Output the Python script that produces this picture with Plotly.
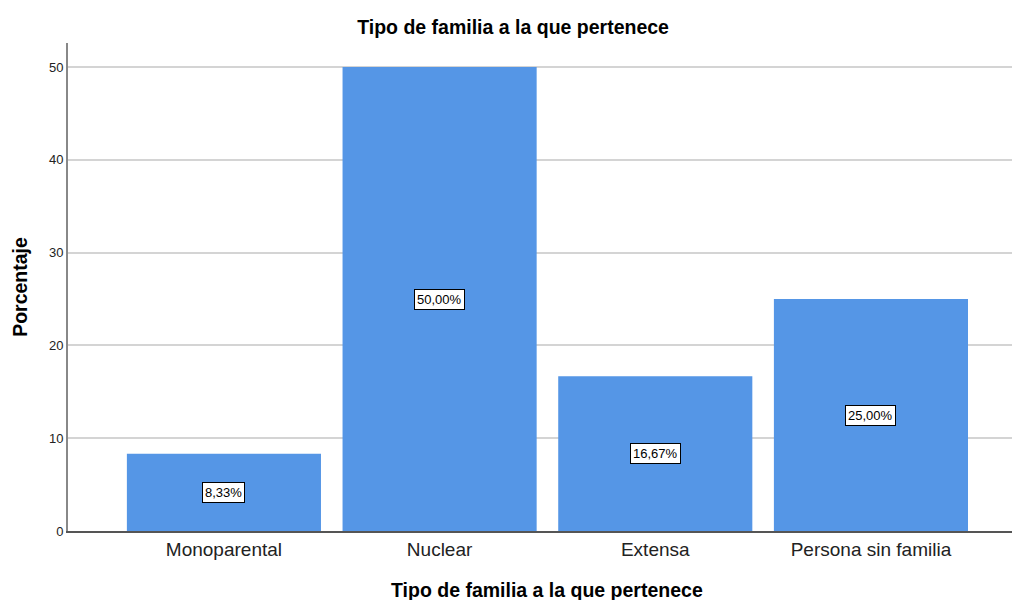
import plotly.graph_objects as go

categories = ["Monoparental", "Nuclear", "Extensa", "Persona sin familia"]
values = [8.33, 50.00, 16.67, 25.00]
labels = ["8,33%", "50,00%", "16,67%", "25,00%"]
yticks = [0, 10, 20, 30, 40, 50]

FONT = "Liberation Sans, Arial, sans-serif"
TITLE = "Tipo de familia a la que pertenece"

fig = go.Figure()
fig.add_trace(go.Bar(x=list(range(len(categories))), y=values, width=0.9,
                     marker=dict(color="#5596e6", line=dict(width=0)),
                     hoverinfo="skip"))

for i, (v, t) in enumerate(zip(values, labels)):
    fig.add_annotation(x=i, y=v / 2, text=t, showarrow=False,
                       font=dict(family=FONT, size=13, color="black"),
                       bgcolor="white", bordercolor="black", borderwidth=1,
                       borderpad=2)

# x-axis title placed as annotation (slightly right of plot centre, as in reference)
fig.add_annotation(xref="paper", yref="paper", x=0.5074, y=-0.121,
                   xanchor="center", yanchor="middle", showarrow=False,
                   text="<b>" + TITLE + "</b>",
                   font=dict(family=FONT, size=19.5, color="black"))

fig.update_layout(
    width=1012, height=600,
    margin=dict(l=68, r=0, t=43, b=69),
    plot_bgcolor="white", paper_bgcolor="white",
    showlegend=False,
    font=dict(family=FONT, color="black"),
    title=dict(text="<b>" + TITLE + "</b>",
               x=0.507, xanchor="center", y=0.955, yanchor="middle",
               font=dict(family=FONT, size=19.5, color="black")),
    xaxis=dict(range=[-0.723, 3.654], tickmode="array",
               tickvals=list(range(len(categories))), ticktext=categories,
               tickfont=dict(family=FONT, size=19, color="#222"),
               showline=True, linecolor="#555", linewidth=1.5,
               showgrid=False, zeroline=False, ticks=""),
    yaxis=dict(range=[0, 52.6], tickmode="array", tickvals=yticks,
               tickfont=dict(family=FONT, size=13, color="#222"),
               showline=True, linecolor="#888", linewidth=2,
               showgrid=True, gridcolor="#d4d4d4", gridwidth=2,
               zeroline=False, ticks="", ticklen=0,
               title=dict(text="<b>Porcentaje</b>",
                          font=dict(family=FONT, size=19.5, color="black"),
                          standoff=16)),
)

post = ("document.body.style.margin='0';"
        "document.body.style.overflow='hidden';"
        "var gd=document.getElementById('{plot_id}');"
        "return Plotly.relayout(gd,{width:1012,height:600});")

fig.write_html("out.html", post_script=post,
               config={"displayModeBar": False})
